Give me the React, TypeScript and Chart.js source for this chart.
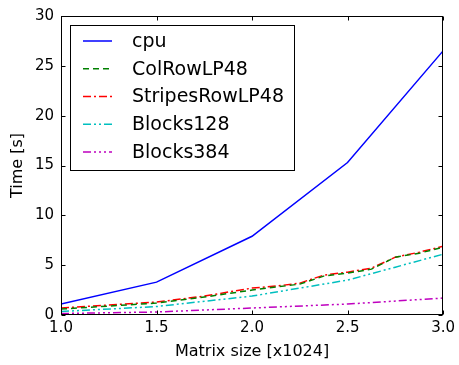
import React, { useEffect, useRef } from "react";
import { Chart, registerables } from "chart.js";

Chart.register(...registerables);

// Matrix sizes (in units of 1024) and measured run times in seconds
const cpuX = [1.0, 1.5, 2.0, 2.5, 3.0];
const cpuY = [1.1, 3.3, 7.9, 15.3, 26.5];

const colRowX = [1.0, 1.25, 1.5, 1.75, 2.0, 2.125, 2.25, 2.375, 2.5, 2.625, 2.75, 2.875, 3.0];
const colRowY = [0.6, 0.9, 1.2, 1.8, 2.5, 2.8, 3.1, 3.9, 4.2, 4.6, 5.8, 6.2, 6.8];

const stripesX = [1.0, 1.25, 1.5, 1.75, 2.0, 2.125, 2.25, 2.375, 2.5, 2.625, 2.75, 2.875, 3.0];
const stripesY = [0.7, 1.0, 1.3, 1.9, 2.7, 2.9, 3.2, 4.0, 4.3, 4.7, 5.8, 6.3, 6.9];

const blocks128X = [1.0, 1.5, 2.0, 2.5, 2.75, 3.0];
const blocks128Y = [0.35, 0.85, 1.9, 3.5, 4.8, 6.1];

const blocks384X = [1.0, 1.5, 2.0, 2.5, 3.0];
const blocks384Y = [0.15, 0.3, 0.7, 1.1, 1.7];

const seriesLabels = ["cpu", "ColRowLP48", "StripesRowLP48", "Blocks128", "Blocks384"];
const xTicks = [1.0, 1.5, 2.0, 2.5, 3.0];
const yTicks = [0, 5, 10, 15, 20, 25, 30];

const FONT = "'DejaVu Sans', sans-serif";

const toPoints = (xs: number[], ys: number[]) => xs.map((x, i) => ({ x, y: ys[i] }));

// Frame, inward tick marks on all four sides, and a boxed legend
const framePlugin = {
  id: "frameAndLegend",
  afterDraw(chart: any) {
    const { ctx, chartArea: a, scales } = chart;
    const L = Math.round(a.left) + 0.5;
    const R = Math.round(a.right) - 0.5;
    const T = Math.round(a.top) + 0.5;
    const B = Math.round(a.bottom) - 0.5;
    ctx.save();
    ctx.strokeStyle = "#000";
    ctx.lineWidth = 1;
    ctx.setLineDash([]);
    ctx.strokeRect(L, T, R - L, B - T);
    const tl = 4;
    ctx.beginPath();
    xTicks.forEach((v) => {
      const px = Math.round(scales.x.getPixelForValue(v)) + 0.5;
      ctx.moveTo(px, B);
      ctx.lineTo(px, B - tl);
      ctx.moveTo(px, T);
      ctx.lineTo(px, T + tl);
    });
    yTicks.forEach((v) => {
      const py = Math.round(scales.y.getPixelForValue(v)) + 0.5;
      ctx.moveTo(L, py);
      ctx.lineTo(L + tl, py);
      ctx.moveTo(R, py);
      ctx.lineTo(R - tl, py);
    });
    ctx.stroke();

    // legend box
    const bx = 70.5, by = 25.5, bw = 224, bh = 145;
    ctx.fillStyle = "#fff";
    ctx.fillRect(bx, by, bw, bh);
    ctx.strokeRect(bx, by, bw, bh);
    ctx.font = `19px ${FONT}`;
    ctx.textBaseline = "middle";
    ctx.textAlign = "left";
    chart.data.datasets.forEach((ds: any, i: number) => {
      const y = 41 + i * 27.75;
      ctx.save();
      ctx.strokeStyle = ds.borderColor;
      ctx.lineWidth = ds.borderWidth;
      ctx.setLineDash(ds.borderDash || []);
      ctx.beginPath();
      ctx.moveTo(83, y);
      ctx.lineTo(112, y);
      ctx.stroke();
      ctx.restore();
      ctx.fillStyle = "#000";
      ctx.fillText(ds.label, 132, y + 1);
    });
    ctx.restore();
  },
};

export default function App() {
  const ref = useRef<HTMLCanvasElement | null>(null);

  useEffect(() => {
    if (!ref.current) return;
    const mk = (i: number, xs: number[], ys: number[], color: string, dash: number[]) => ({
      label: seriesLabels[i],
      data: toPoints(xs, ys),
      borderColor: color,
      backgroundColor: color,
      borderWidth: 1.5,
      borderDash: dash,
      pointRadius: 0,
      fill: false,
      tension: 0,
    });
    const chart = new Chart(ref.current, {
      type: "line",
      data: {
        datasets: [
          mk(0, cpuX, cpuY, "#0000ff", []),
          mk(1, colRowX, colRowY, "#008000", [6, 4]),
          mk(2, stripesX, stripesY, "#ff0000", [8, 3, 2, 3]),
          mk(3, blocks128X, blocks128Y, "#00bfbf", [8, 3, 2, 3, 2, 3]),
          mk(4, blocks384X, blocks384Y, "#bf00bf", [8, 3, 2, 3, 2, 3, 2, 3]),
        ],
      },
      options: {
        animation: false,
        responsive: false,
        layout: { padding: { left: 0, right: 14, top: 15, bottom: 0 } },
        plugins: { legend: { display: false }, tooltip: { enabled: false } },
        scales: {
          x: {
            type: "linear",
            min: 1,
            max: 3,
            afterFit: (s: any) => {
              s.height = 50;
            },
            afterBuildTicks: (s: any) => {
              s.ticks = xTicks.map((v) => ({ value: v }));
            },
            grid: { display: false, drawTicks: false },
            border: { display: false },
            ticks: {
              padding: 4,
              color: "#000",
              font: { family: FONT, size: 15 },
              callback: (v: any) => Number(v).toFixed(1),
              maxRotation: 0,
            },
            title: {
              display: true,
              text: "Matrix size [x1024]",
              color: "#000",
              font: { family: FONT, size: 16 },
              padding: { top: 0, bottom: 4 },
            },
          },
          y: {
            type: "linear",
            min: 0,
            max: 30,
            afterFit: (s: any) => {
              s.width = 61;
            },
            afterBuildTicks: (s: any) => {
              s.ticks = yTicks.map((v) => ({ value: v }));
            },
            grid: { display: false, drawTicks: false },
            border: { display: false },
            ticks: {
              padding: 7,
              color: "#000",
              font: { family: FONT, size: 15 },
            },
            title: {
              display: true,
              text: "Time [s]",
              color: "#000",
              font: { family: FONT, size: 16 },
              padding: { top: 8, bottom: 0 },
            },
          },
        },
      },
      plugins: [framePlugin],
    });
    return () => chart.destroy();
  }, []);

  return (
    <canvas
      ref={ref}
      width={459}
      height={365}
      style={{ position: "fixed", left: 0, top: 0, width: 459, height: 365 }}
    />
  );
}
